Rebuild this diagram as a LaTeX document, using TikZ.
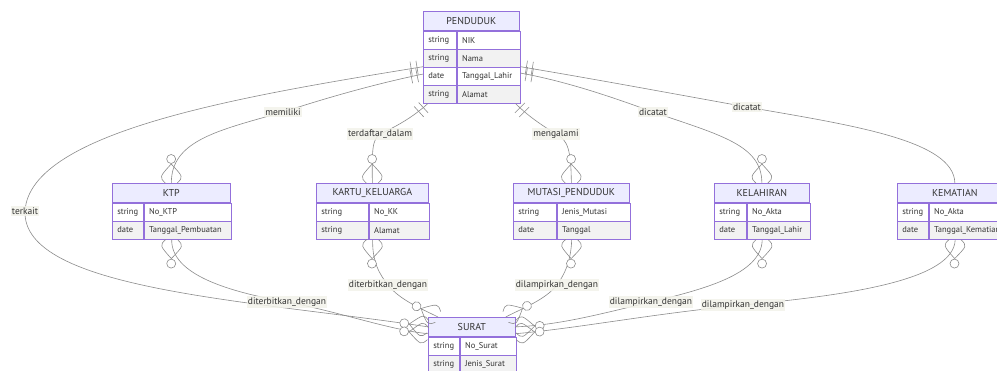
\documentclass[tikz,border=0pt]{standalone}
\usepackage{fontspec}
\setmainfont{PT Sans}
\usetikzlibrary{calc,fit,decorations.markings}

\definecolor{entfill}{HTML}{ECECFF}
\definecolor{entdraw}{HTML}{9370DB}
\definecolor{rowodd}{HTML}{FFFFFF}
\definecolor{roweven}{HTML}{F2F2F2}
\definecolor{linegray}{HTML}{8C8C8C}
\definecolor{txt}{HTML}{333333}
\definecolor{labelbg}{HTML}{F3F3EA}

\newcommand{\crowfoot}[1]{%
  \draw[linegray, line width=0.6pt] (#1*19pt,0) .. controls (#1*6pt,12pt) .. (0,6pt)
    (#1*19pt,0) .. controls (#1*6pt,-12pt) .. (0,-6pt);
  \draw[linegray, line width=0.6pt, fill=white] (#1*24pt,0) circle[radius=4.5pt];}

\tikzset{
  enttitle/.style={draw=entdraw, fill=entfill, line width=0.7pt, minimum height=19pt,
    inner sep=0pt, font=\fontsize{10}{12}\selectfont, text=txt},
  entcell/.style={draw=entdraw, line width=0.7pt, minimum height=18pt, inner xsep=5pt,
    inner ysep=0pt, align=left, font=\fontsize{8.5}{10}\selectfont, text=txt},
  lbl/.style={fill=labelbg, fill opacity=0.85, text opacity=1, inner sep=1.2pt,
    font=\fontsize{9.5}{11}\selectfont, text=txt},
  conn/.style={draw=linegray, line width=0.6pt},
  onestart/.style={postaction={decorate, decoration={markings,
    mark=at position 0 with {\draw[linegray, line width=0.6pt] (6pt,-7pt) -- (6pt,7pt) (12pt,-7pt) -- (12pt,7pt);}}}},
  manystart/.style={postaction={decorate, decoration={markings,
    mark=at position 0 with {\crowfoot{1}}}}},
  manyend/.style={postaction={decorate, decoration={markings,
    mark=at position 1 with {\crowfoot{-1}}}}}
}

% #1 name, #2 top left, #3 type width, #4 name width, #5 title, #6 rows
\newcommand{\erentity}[6]{%
  \node[enttitle, minimum width={#3+#4}, anchor=north west] (#1) at #2 {#5};
  \foreach \atype/\aname [count=\i] in {#6} {
    \ifodd\i\relax \def\rowcol{rowodd}\else \def\rowcol{roweven}\fi
    \pgfmathsetmacro\cellw{#3-10}
    \node[entcell, fill=\rowcol, text width=\cellw pt, anchor=north west] (#1-t\i) at ($(#1.south west)+(0,{(\i-1)*18})$) {\atype};
    \pgfmathsetmacro\cellw{#4-10}
    \node[entcell, fill=\rowcol, text width=\cellw pt, anchor=north west] (#1-a\i) at (#1-t\i.north east) {\aname};
    \xdef\lastrow{\i}
  }
  \node[fit=(#1)(#1-a\lastrow), inner sep=0pt] (#1-box) {};
}

\begin{document}
\begin{tikzpicture}[x=1pt, y=-1pt]
  \useasboundingbox (0,0) rectangle (997,370);
  \fill[white] (0,0) rectangle (997,370);
  \clip (0,0) rectangle (997,370);

  \erentity{penduduk}{(423,11)}{33}{63}{PENDUDUK}{string/NIK, string/Nama, date/Tanggal\_Lahir, string/Alamat}
  \erentity{ktp}{(112,183)}{31}{87}{KTP}{string/No\_KTP, date/Tanggal\_Pembuatan}
  \erentity{kk}{(316,183)}{52}{60}{KARTU\_KELUARGA}{string/No\_KK, string/Alamat}
  \erentity{mutasi}{(513,183)}{43}{73}{MUTASI\_PENDUDUK}{string/Jenis\_Mutasi, date/Tanggal}
  \erentity{lahir}{(714,183)}{32}{63}{KELAHIRAN}{string/No\_Akta, date/Tanggal\_Lahir}
  \erentity{mati}{(897,183)}{31}{84}{KEMATIAN}{string/No\_Akta, date/Tanggal\_Kematian}
  \erentity{surat}{(428,317)}{31}{56}{SURAT}{string/No\_Surat, string/Jenis\_Surat}

  % relasi dari PENDUDUK
  \draw[conn, onestart, manyend] (penduduk-t3.north west) .. controls (250,95) and (30,130) .. (25,211) node[lbl] {terkait}
    .. controls (22,290) and (250,300) .. (surat.west);
  \draw[conn, onestart, manyend] ($(penduduk-t3.west)+(0,-2)$) .. controls (370,85) and (320,100) .. (283,112) node[lbl] {memiliki}
    .. controls (220,130) and (171,140) .. (ktp.north);
  \draw[conn, onestart, manyend] ($(penduduk-box.south west)+(5,0)$) .. controls (412,118) and (395,127) .. (380,134) node[lbl] {terdaftar\_dalam}
    .. controls (372,140) and (372,150) .. (kk.north);
  \draw[conn, onestart, manyend] ($(penduduk-box.south east)+(-5,0)$) .. controls (530,118) and (545,127) .. (556,134) node[lbl] {mengalami}
    .. controls (568,140) and (571,150) .. (mutasi.north);
  \draw[conn, onestart, manyend] ($(penduduk-a3.east)+(0,-3)$) .. controls (570,82) and (620,100) .. (653,112) node[lbl] {dicatat}
    .. controls (720,135) and (762,145) .. (lahir.north);
  \draw[conn, onestart, manyend] (penduduk-a3.north east) .. controls (600,80) and (680,95) .. (747,107) node[lbl] {dicatat}
    .. controls (850,125) and (954,140) .. (mati.north);

  % relasi ke SURAT
  \draw[conn, manystart, manyend] (ktp-box.south) .. controls (171,275) and (230,292) .. (287,302) node[lbl] {diterbitkan\_dengan}
    .. controls (340,312) and (390,330) .. ($(surat.south west)+(0,-3)$);
  \draw[conn, manystart, manyend] (kk-box.south) .. controls (372,262) and (380,275) .. (388,285) node[lbl] {diterbitkan\_dengan}
    .. controls (400,300) and (420,308) .. ($(surat.north west)+(10,0)$);
  \draw[conn, manystart, manyend] (mutasi-box.south) .. controls (571,262) and (564,275) .. (557,285) node[lbl] {dilampirkan\_dengan}
    .. controls (545,300) and (523,308) .. ($(surat.north east)+(-10,0)$);
  \draw[conn, manystart, manyend] (lahir-box.south) .. controls (762,275) and (700,290) .. (651,302) node[lbl] {dilampirkan\_dengan}
    .. controls (600,314) and (560,325) .. (surat.east);
  \draw[conn, manystart, manyend] (mati-box.south) .. controls (954,280) and (850,295) .. (743,305) node[lbl] {dilampirkan\_dengan}
    .. controls (650,314) and (580,328) .. ($(surat.south east)+(0,-3)$);
\end{tikzpicture}
\end{document}
